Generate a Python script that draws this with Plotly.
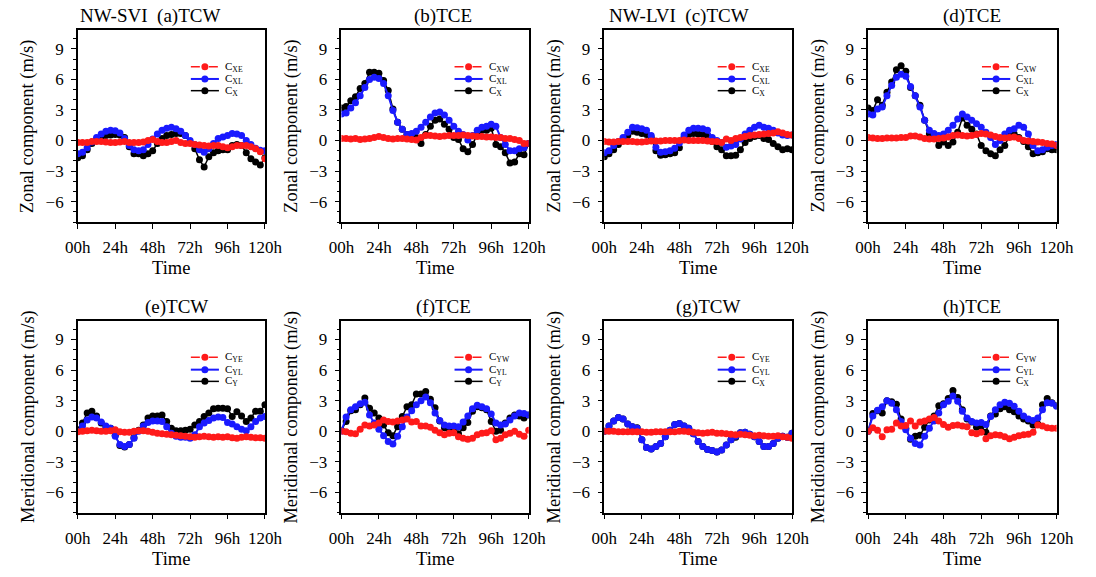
import plotly.graph_objects as go

# ---------------- data ----------------
hours = list(range(0, 121, 3))
x_tick_vals = [0, 24, 48, 72, 96, 120]
x_tick_text = ["00h", "24h", "48h", "72h", "96h", "120h"]
y_tick_vals = [-6, -3, 0, 3, 6, 9]

panel_titles = ["NW-SVI  (a)TCW", "(b)TCE", "NW-LVI  (c)TCW", "(d)TCE",
                "(e)TCW", "(f)TCE", "(g)TCW", "(h)TCE"]
y_titles = ["Zonal component (m/s)"] * 4 + ["Meridional component (m/s)"] * 4
x_title = "Time"
legend_names = [
    ["C<sub>XE</sub>", "C<sub>XL</sub>", "C<sub>X</sub>"],
    ["C<sub>XW</sub>", "C<sub>XL</sub>", "C<sub>X</sub>"],
    ["C<sub>XE</sub>", "C<sub>XL</sub>", "C<sub>X</sub>"],
    ["C<sub>XW</sub>", "C<sub>XL</sub>", "C<sub>X</sub>"],
    ["C<sub>YE</sub>", "C<sub>YL</sub>", "C<sub>Y</sub>"],
    ["C<sub>YW</sub>", "C<sub>YL</sub>", "C<sub>Y</sub>"],
    ["C<sub>YE</sub>", "C<sub>YL</sub>", "C<sub>X</sub>"],
    ["C<sub>YW</sub>", "C<sub>YL</sub>", "C<sub>X</sub>"],
]

a_red = [-0.2, -0.2, -0.2, -0.1, -0.1, -0.1, -0.15, -0.2, -0.2, -0.15,
         -0.1, -0.2, -0.2, -0.2, -0.15, 0.0, 0.1, -0.1, -0.2, -0.2,
         -0.1, 0.0, -0.2, -0.3, -0.3, -0.4, -0.45, -0.5, -0.55, -0.5,
         -0.5, -0.6, -0.7, -0.6, -0.5, -0.5, -0.5, -0.6, -0.8, -1.1, -1.8]
a_blue = [-1.3, -1.15, -0.7, -0.15, 0.3, 0.65, 0.9, 1.0, 0.95, 0.75,
          0.2, -0.5, -0.9, -1.0, -0.9, -0.4, 0.15, 0.65, 1.0, 1.2,
          1.3, 1.15, 0.9, 0.5, 0.0, -0.4, -0.9, -1.15, -0.8, -0.3,
          0.2, 0.35, 0.5, 0.7, 0.65, 0.5, 0.0, -0.4, -0.75, -0.95, -1.0]
a_black = [-1.7, -1.5, -0.9, -0.3, 0.1, 0.4, 0.5, 0.55, 0.6, 0.55,
           0.3, -0.6, -1.3, -1.3, -1.5, -1.3, -1.0, -0.3, 0.2, 0.5,
           0.6, 0.7, 0.7, 0.5, -0.2, -0.8, -1.9, -2.6, -1.6, -1.2,
           -1.0, -0.9, -0.9, -0.5, -0.4, -0.5, -1.2, -1.8, -2.1, -2.4, -1.7]

b_red = [0.2, 0.2, 0.15, 0.2, 0.1, 0.15, 0.2, 0.3, 0.4, 0.3,
         0.2, 0.15, 0.2, 0.2, 0.15, 0.1, 0.05, 0.3, 0.5, 0.5,
         0.45, 0.4, 0.45, 0.5, 0.5, 0.5, 0.55, 0.5, 0.45, 0.4,
         0.4, 0.35, 0.35, 0.3, 0.3, 0.2, 0.2, 0.1, 0.0, -0.3, -0.3]
b_blue = [2.6, 2.7, 3.2, 3.7, 4.4, 5.2, 6.0, 6.2, 6.1, 5.6,
          4.4, 2.95, 1.8, 1.1, 0.6, 0.7, 0.9, 1.3, 1.8, 2.3,
          2.7, 2.8, 2.5, 2.0, 1.4, 0.9, 0.6, 0.05, 0.5, 1.0,
          1.3, 1.4, 1.6, 1.4, 0.3, -0.4, -1.0, -1.0, -0.8, -0.7, -0.3]
b_black = [3.2, 3.35, 3.9, 4.3, 5.1, 5.6, 6.7, 6.7, 6.6, 5.9,
           4.9, 3.1, 1.8, 1.1, 0.6, 0.5, 0.3, -0.3, 0.6, 1.4,
           2.0, 2.1, 1.6, 1.1, 0.3, 0.1, -0.8, -1.1, -0.4, 0.6,
           1.0, 1.0, 1.2, -0.4, -0.6, -1.2, -2.2, -2.1, -1.3, -1.4, -0.3]

c_red = [-0.1, -0.15, -0.15, -0.1, -0.1, -0.1, -0.1, -0.15, -0.15, -0.1,
         -0.05, -0.05, -0.05, 0.0, 0.0, 0.0, 0.0, 0.05, 0.0, 0.0,
         0.0, 0.0, -0.05, -0.1, -0.1, -0.2, 0.15, 0.0, 0.2, 0.3,
         0.4, 0.5, 0.55, 0.6, 0.65, 0.7, 0.75, 0.85, 0.75, 0.6, 0.55]
c_blue = [-1.2, -1.0, -0.5, -0.1, 0.3, 0.8, 1.3, 1.25, 1.15, 1.0,
          0.5, -0.65, -1.15, -1.1, -1.0, -0.75, -0.25, 0.55, 1.0, 1.2,
          1.2, 1.15, 1.0, 0.3, 0.0, -0.2, -0.65, -0.55, -0.4, 0.15,
          0.65, 1.0, 1.3, 1.5, 1.3, 1.2, 1.0, 0.75, 0.55, 0.5, 0.55]
c_black = [-1.6, -1.3, -0.9, -0.4, 0.1, 0.5, 0.9, 0.8, 0.7, 0.6,
           0.3, -1.0, -1.45, -1.4, -1.3, -1.2, -0.7, 0.3, 0.6, 0.7,
           0.65, 0.6, 0.5, -0.1, -0.6, -0.9, -1.5, -1.5, -1.45, -0.9,
           -0.2, 0.2, 0.4, 0.5, 0.2, 0.1, -0.3, -0.6, -0.9, -0.8, -0.9]

d_red = [0.3, 0.25, 0.2, 0.2, 0.25, 0.25, 0.25, 0.3, 0.3, 0.45,
         0.45, 0.35, 0.2, 0.15, 0.15, 0.2, 0.25, 0.35, 0.5, 0.55,
         0.5, 0.45, 0.5, 0.6, 0.7, 0.65, 0.55, 0.4, 0.3, 0.25,
         0.3, 0.35, 0.2, 0.0, -0.05, -0.1, -0.15, -0.2, -0.3, -0.35, -0.5]
d_blue = [2.6, 2.5, 3.1, 3.3, 4.4, 5.4, 6.2, 6.5, 6.3, 5.3,
          4.4, 3.3, 2.0, 1.0, 0.7, 0.5, 0.65, 1.0, 1.5, 2.1,
          2.6, 2.3, 2.0, 1.65, 1.3, 0.8, 0.3, -0.4, 0.0, 0.65,
          1.0, 1.15, 1.5, 1.3, 0.65, -0.5, -1.0, -0.9, -0.65, -0.5, -0.4]
d_black = [3.2, 2.95, 4.0, 3.45, 4.75, 5.75, 6.95, 7.35, 6.8, 5.2,
           4.4, 3.45, 2.0, 0.65, 0.3, -0.5, -0.15, -0.5, -0.15, 0.8,
           2.2, 1.5, 1.1, 0.65, -0.5, -1.0, -1.3, -1.5, -0.9, -0.5,
           0.5, 0.65, 0.3, -0.1, -0.6, -1.3, -1.2, -1.1, -0.8, -0.9, -0.9]

e_red = [-0.05, 0.0, 0.05, 0.1, 0.05, 0.0, 0.0, 0.05, 0.15, -0.05,
         -0.1, -0.1, 0.0, 0.05, 0.05, 0.0, -0.1, -0.2, -0.25, -0.3,
         -0.35, -0.4, -0.45, -0.5, -0.55, -0.6, -0.55, -0.5, -0.55, -0.6,
         -0.55, -0.6, -0.55, -0.65, -0.7, -0.6, -0.55, -0.6, -0.65, -0.65, -0.7]
e_blue = [0.0, 0.5, 1.1, 1.4, 1.3, 0.9, 0.5, 0.3, -0.5, -1.3,
          -1.5, -1.3, -0.7, 0.0, 0.5, 0.85, 1.0, 1.0, 0.95, 0.45,
          -0.2, -0.5, -0.6, -0.6, -0.7, -0.35, 0.45, 0.8, 1.05, 1.3,
          1.4, 1.35, 0.85, 0.7, 0.45, 0.2, 0.05, 0.45, 0.95, 1.3, 1.45]
e_black = [0.15, 0.8, 1.8, 1.95, 1.5, 0.8, 0.45, 0.3, -0.4, -1.4,
           -1.55, -1.3, -0.65, 0.1, 0.6, 1.3, 1.5, 1.5, 1.6, 0.95,
           0.3, 0.05, 0.05, 0.1, 0.2, 0.6, 0.95, 1.45, 1.8, 2.2,
           2.25, 2.25, 2.2, 1.45, 1.9, 1.5, 0.95, 1.3, 1.95, 1.95, 2.6]

f_red = [0.0, -0.05, -0.2, -0.25, 0.2, 0.6, 0.5, 0.6, 0.8, 1.1,
         0.95, 0.9, 1.0, 1.1, 1.2, 0.9, 0.95, 0.5, 0.5, 0.4,
         0.1, -0.15, -0.35, -0.2, -0.15, -0.55, -0.7, -0.8, -0.7, -0.35,
         -0.2, -0.15, 0.05, -0.85, -0.7, -0.35, -0.2, 0.0, -0.3, -0.5, 0.1]
f_blue = [0.0, 1.4, 2.1, 2.4, 2.7, 2.85, 1.6, 0.8, 0.2, -0.45,
          -1.0, -1.25, -0.5, 0.45, 1.4, 2.0, 2.6, 3.0, 3.35, 2.8,
          1.8, 1.05, 0.6, 0.5, 0.5, 0.45, 0.9, 1.5, 2.2, 2.55,
          2.4, 2.2, 1.7, 0.8, 0.6, 0.7, 1.1, 1.5, 1.8, 1.75, 1.6]
f_black = [0.1, 0.95, 2.0, 2.1, 2.6, 3.25, 2.25, 1.8, 1.3, 0.6,
           -0.15, -0.45, 0.45, 1.45, 2.4, 2.6, 3.65, 3.65, 3.9, 3.15,
           2.3, 1.0, 0.35, 0.1, 0.1, -0.25, 0.35, 0.85, 1.95, 2.4,
           2.3, 2.1, 0.95, 0.0, 0.1, 0.8, 1.3, 1.6, 1.5, 1.3, 1.6]

g_red = [0.0, 0.0, 0.0, -0.05, -0.05, -0.05, -0.05, -0.05, -0.05, -0.1,
         -0.1, -0.05, -0.05, -0.05, -0.05, -0.05, 0.0, 0.0, -0.05, -0.1,
         -0.15, -0.2, -0.15, -0.1, -0.2, -0.2, -0.25, -0.3, -0.35, -0.3,
         -0.35, -0.4, -0.45, -0.4, -0.45, -0.5, -0.5, -0.45, -0.55, -0.6, -0.7]
g_blue = [0.0, 0.5, 1.0, 1.35, 1.2, 0.7, 0.45, 0.3, -0.85, -1.6,
          -1.75, -1.5, -1.2, -0.55, 0.1, 0.65, 0.75, 0.5, 0.3, -0.25,
          -1.0, -1.5, -1.8, -1.9, -2.05, -1.85, -1.35, -0.85, -0.5, -0.15,
          -0.1, -0.3, -0.55, -1.0, -1.5, -1.5, -1.2, -0.7, -0.5, -0.6, -0.2]
g_black = [0.0, 0.5, 1.0, 1.35, 1.2, 0.7, 0.45, 0.35, -0.85, -1.6,
           -1.75, -1.5, -1.2, -0.55, 0.1, 0.65, 0.75, 0.5, 0.3, -0.25,
           -1.0, -1.5, -1.8, -1.9, -2.05, -1.85, -1.35, -0.85, -0.6, -0.15,
           -0.1, -0.3, -0.55, -1.0, -1.5, -1.5, -1.2, -0.7, -0.5, -0.6, -0.2]

h_red = [0.0, 0.35, 0.1, -0.55, 0.15, 0.2, 0.8, 0.5, 0.55, 1.0,
         0.5, 0.9, 1.0, 1.2, 1.35, 1.0, 0.65, 0.4, 0.55, 0.6,
         0.5, 0.45, -0.15, -0.25, -0.1, -0.75, -0.45, -0.35, -0.4, -0.55,
         -0.75, -0.6, -0.45, -0.35, -0.3, -0.1, 0.6, 0.5, 0.35, 0.3, 0.3]
h_blue = [0.0, 1.5, 2.05, 2.4, 3.0, 2.75, 2.1, 0.95, 0.15, -0.7,
          -1.2, -1.35, -0.5, 0.3, 1.0, 1.8, 2.6, 2.95, 3.45, 2.95,
          1.95, 1.3, 0.95, 0.8, 0.85, 0.65, 1.45, 2.1, 2.6, 2.85,
          2.75, 2.45, 1.95, 1.5, 1.2, 1.05, 1.3, 2.1, 2.8, 2.75, 2.45]
h_black = [0.0, 1.75, 2.0, 1.8, 3.0, 2.9, 2.65, 1.2, 0.3, -0.8,
           -0.5, -0.4, 0.4, 1.1, 1.5, 2.5, 2.7, 3.2, 4.0, 3.3,
           2.1, 1.2, 0.9, 0.4, 0.5, -0.1, 1.5, 1.7, 2.2, 2.4,
           2.1, 1.9, 1.5, 1.2, 1.0, 0.6, 0.7, 2.6, 3.2, 2.8, 2.5]

series = [
    (a_red, a_blue, a_black), (b_red, b_blue, b_black),
    (c_red, c_blue, c_black), (d_red, d_blue, d_black),
    (e_red, e_blue, e_black), (f_red, f_blue, f_black),
    (g_red, g_blue, g_black), (h_red, h_blue, h_black),
]

# ---------------- layout geometry (pixels) ----------------
W, H = 1096, 577
col_px = [(66.7, 259.3), (338.0, 530.7), (608.5, 801.7), (880.0, 1074.0)]
row_px = [(30.0, 222.0), (320.7, 512.7)]
title_cx = [141, 443, 685, 987, 168, 443, 715, 987]
y_range = [-8, 10.85]

RED = "#ff1a1a"
BLUE = "#1a1aff"
BLACK = "#000000"
FONT = "Liberation Serif"

fig = go.Figure()
annotations = []
shapes = []
layout_axes = {}

for k in range(8):
    r, c = divmod(k, 4)
    n = k + 1
    xname = "x" if n == 1 else f"x{n}"
    yname = "y" if n == 1 else f"y{n}"
    red, blue, black = series[k]

    fig.add_trace(go.Scatter(x=hours, y=black, mode="lines+markers",
                             line=dict(color=BLACK, width=1.5),
                             marker=dict(color=BLACK, size=7),
                             xaxis=xname, yaxis=yname, showlegend=False))
    fig.add_trace(go.Scatter(x=hours, y=blue, mode="lines+markers",
                             line=dict(color=BLUE, width=2),
                             marker=dict(color=BLUE, size=7),
                             xaxis=xname, yaxis=yname, showlegend=False))
    fig.add_trace(go.Scatter(x=hours, y=red, mode="lines+markers",
                             line=dict(color=RED, width=1.5, dash="4px,2px"),
                             marker=dict(color=RED, size=7),
                             xaxis=xname, yaxis=yname, showlegend=False))

    x0, x1 = col_px[c]
    y0, y1 = row_px[r]
    layout_axes["xaxis" if n == 1 else f"xaxis{n}"] = dict(
        domain=[x0 / W, x1 / W], anchor=yname, range=[0, 120],
        tickvals=x_tick_vals, ticktext=x_tick_text,
        ticks="outside", ticklen=5, tickwidth=1, tickcolor="black",
        showline=True, linecolor="black", linewidth=1.5, mirror=True,
        showgrid=False, zeroline=False,
        tickfont=dict(family=FONT, size=17, color="black"),
        ticklabelstandoff=4,
    )
    layout_axes["yaxis" if n == 1 else f"yaxis{n}"] = dict(
        domain=[1 - y1 / H, 1 - y0 / H], anchor=xname, range=y_range,
        tickvals=y_tick_vals, ticks="outside", ticklen=5, tickwidth=1,
        tickcolor="black",
        minor=dict(dtick=1, ticks="outside", ticklen=3, tickcolor="black",
                   showgrid=False),
        showline=True, linecolor="black", linewidth=1.5, mirror=True,
        showgrid=False, zeroline=False,
        tickfont=dict(family=FONT, size=17, color="black"),
        ticklabelstandoff=4,
    )

    # panel title
    annotations.append(dict(text=panel_titles[k], x=title_cx[k] / W,
                            y=1 - (y0 - 14) / H, xref="paper", yref="paper",
                            xanchor="center", yanchor="middle", showarrow=False,
                            font=dict(family=FONT, size=19, color="black")))
    # y title
    annotations.append(dict(text=y_titles[k], x=(x0 - 51) / W,
                            y=1 - ((y0 + y1) / 2) / H, xref="paper", yref="paper",
                            xanchor="center", yanchor="middle", textangle=-90,
                            showarrow=False,
                            font=dict(family=FONT, size=18.5, color="black")))
    # x title
    annotations.append(dict(text=x_title, x=((x0 + x1) / 2) / W,
                            y=1 - (y1 + 46) / H, xref="paper", yref="paper",
                            xanchor="center", yanchor="middle", showarrow=False,
                            font=dict(family=FONT, size=18.5, color="black")))

    # legend (drawn inside panel)
    xd = f"{xname} domain"
    yd = f"{yname} domain"
    leg_y = [0.809, 0.745, 0.684]
    leg_col = [RED, BLUE, BLACK]
    leg_dash = ["dash", "solid", "solid"]
    leg_w = [1.5, 2, 1.5]
    for j in range(3):
        shapes.append(dict(type="line", xref=xd, yref=yd, x0=0.604, x1=0.754,
                           y0=leg_y[j], y1=leg_y[j],
                           line=dict(color=leg_col[j], width=leg_w[j], dash=leg_dash[j])))
        shapes.append(dict(type="circle", xref=xd, yref=yd,
                           xsizemode="pixel", ysizemode="pixel",
                           xanchor=0.679, yanchor=leg_y[j],
                           x0=-3.5, x1=3.5, y0=-3.5, y1=3.5,
                           fillcolor=leg_col[j], line=dict(width=0)))
        annotations.append(dict(text=legend_names[k][j], xref=xd, yref=yd,
                                x=0.775, y=leg_y[j], xanchor="left", yanchor="middle",
                                showarrow=False,
                                font=dict(family=FONT, size=11, color="black")))

fig.update_layout(
    width=W, height=H, autosize=False,
    margin=dict(l=0, r=0, t=0, b=0),
    paper_bgcolor="white", plot_bgcolor="white",
    showlegend=False,
    annotations=annotations, shapes=shapes,
    **layout_axes,
)

fig.write_html("out.html")
